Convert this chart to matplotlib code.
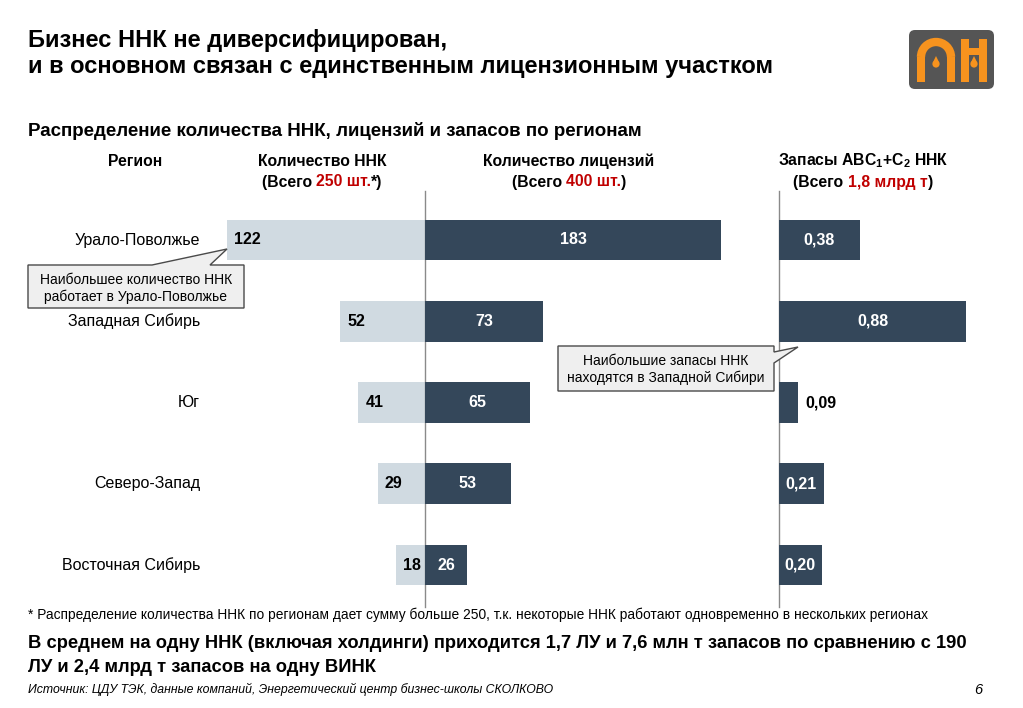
import matplotlib
matplotlib.use("Agg")
import matplotlib.pyplot as plt
from matplotlib.patches import Polygon, FancyBboxPatch, Rectangle, Arc, Circle

plt.rcParams['font.family'] = ['Liberation Sans', 'DejaVu Sans']
plt.rcParams['mathtext.default'] = 'regular'

W, H = 1023, 708

regions = ['Урало-Поволжье', 'Западная Сибирь', 'Юг', 'Северо-Запад', 'Восточная Сибирь']
nnk_count = [122, 52, 41, 29, 18]
licenses = [183, 73, 65, 53, 26]
reserves = [0.38, 0.88, 0.09, 0.21, 0.20]

light = '#D0DAE1'
dark = '#34475A'
red = '#C00000'
HDR = 11.3


def px_axes(left, top, right, bottom):
    return fig.add_axes([left / W, 1 - bottom / H, (right - left) / W, (bottom - top) / H])


def clean(ax):
    ax.set_axis_off()
    ax.set_ylim(4.49, -0.49)


fig = plt.figure(figsize=(W / 100, H / 100), dpi=100)
fig.patch.set_facecolor('white')

ax_n = px_axes(100, 200, 425, 605)
ax_l = px_axes(425, 200, 760, 605)
ax_r = px_axes(779, 200, 1000, 605)
for a in (ax_n, ax_l, ax_r):
    clean(a)
ax_n.set_xlim(200, 0)
ax_l.set_xlim(0, 335 / 1.618)
ax_r.set_xlim(0, 221 / 213.0)

rows = range(len(regions))
ax_n.barh(rows, nnk_count, height=0.5, color=light)
ax_l.barh(rows, licenses, height=0.5, color=dark)
ax_r.barh(rows, reserves, height=0.5, color=dark)

for a in (ax_l, ax_r):
    a.plot([0, 0], [-0.6, 4.52], color='#8A8A8A', lw=1, clip_on=False, zorder=0)

for i, v in enumerate(nnk_count):
    ax_n.annotate(str(v), xy=(v, i), xytext=(5, 0), textcoords='offset points',
                  ha='left', va='center', fontsize=11.5, fontweight='bold', color='black')
for i, v in enumerate(licenses):
    ax_l.text(v / 2, i, str(v), ha='center', va='center', fontsize=11.5,
              fontweight='bold', color='white')
for i, v in enumerate(reserves):
    s = ('%.2f' % v).replace('.', ',')
    if v < 0.15:
        ax_r.annotate(s, xy=(v, i), xytext=(5, 0), textcoords='offset points',
                      ha='left', va='center', fontsize=11.5, fontweight='bold', color='black')
    else:
        ax_r.text(v / 2, i, s, ha='center', va='center', fontsize=11.5,
                  fontweight='bold', color='white')

# overlay in pixel coordinates
ov = fig.add_axes([0, 0, 1, 1], zorder=5)
ov.set_xlim(0, W)
ov.set_ylim(H, 0)
ov.set_axis_off()
ov.patch.set_alpha(0)

for i, name in enumerate(regions):
    ov.text(200, 240 + 81.3 * i, name, ha='right', va='center', fontsize=11.5)

ov.text(28, 40, 'Бизнес ННК не диверсифицирован,', fontsize=17, fontweight='bold', va='center')
ov.text(28, 66, 'и в основном связан с единственным лицензионным участком', fontsize=17,
        fontweight='bold', va='center')
ov.text(28, 131, 'Распределение количества ННК, лицензий и запасов по регионам', fontsize=13.5,
        fontweight='bold', va='center')

ov.text(135, 161, 'Регион', ha='center', va='center', fontsize=HDR, fontweight='bold')
ov.text(322, 161, 'Количество ННК', ha='center', va='center', fontsize=HDR, fontweight='bold')
ov.text(569, 161, 'Количество лицензий', ha='center', va='center', fontsize=HDR, fontweight='bold')
ov.text(863, 161, 'Запасы ABC$_1$+C$_2$ ННК', ha='center', va='center', fontsize=HDR,
        fontweight='bold')

renderer = fig.canvas.get_renderer()


def multi_text(cx, y, parts):
    items = []
    for txt, col in parts:
        t = ov.text(0, y, txt, color=col, ha='left', va='center', fontsize=HDR, fontweight='bold')
        items.append(t)
    widths = [t.get_window_extent(renderer).width for t in items]
    x = cx - sum(widths) / 2
    for t, w in zip(items, widths):
        t.set_x(x)
        x += w


multi_text(322, 182, [('(Всего ', 'black'), ('250 шт.', red), ('*)', 'black')])
multi_text(569, 182, [('(Всего ', 'black'), ('400 шт.', red), (')', 'black')])
multi_text(863, 182, [('(Всего ', 'black'), ('1,8 млрд т', red), (')', 'black')])

# callouts
box1 = [(28, 265), (152, 265), (227, 249), (210, 265), (244, 265), (244, 308), (28, 308)]
box2 = [(558, 346), (774, 346), (774, 352), (798, 347), (774, 363), (774, 391), (558, 391)]
for pts in (box1, box2):
    ov.add_patch(Polygon(pts, closed=True, facecolor='#EFEFEF', edgecolor='#4A4A4A', lw=1))
ov.text(136, 280, 'Наибольшее количество ННК', ha='center', va='center', fontsize=10)
ov.text(136, 297, 'работает в Урало-Поволжье', ha='center', va='center', fontsize=10)
ov.text(666, 361, 'Наибольшие запасы ННК', ha='center', va='center', fontsize=10)
ov.text(666, 378, 'находятся в Западной Сибири', ha='center', va='center', fontsize=10)

# bottom texts
ov.text(28, 615, '* Распределение количества ННК по регионам дает сумму больше 250, т.к. '
        'некоторые ННК работают одновременно в нескольких регионах', fontsize=9.95, va='center')
ov.text(28, 643, 'В среднем на одну ННК (включая холдинги) приходится 1,7 ЛУ и 7,6 млн т '
        'запасов по сравнению с 190', fontsize=13.2, fontweight='bold', va='center')
ov.text(28, 667, 'ЛУ и 2,4 млрд т запасов на одну ВИНК', fontsize=13.2, fontweight='bold', va='center')
ov.text(28, 689, 'Источник: ЦДУ ТЭК, данные компаний, Энергетический центр бизнес-школы СКОЛКОВО',
        fontsize=8.85, style='italic', va='center')
ov.text(978, 690, '6', fontsize=10.5, style='italic', va='center', ha='center')

# logo
orange = '#F7931E'
ov.add_patch(FancyBboxPatch((909, 30), 85, 59, boxstyle='round,pad=0,rounding_size=6',
                            facecolor='#555555', edgecolor='none'))
ov.add_patch(Arc((936, 57), 30, 30, theta1=180, theta2=360, color=orange, lw=6))
ov.add_patch(Rectangle((917, 57), 8, 25, color=orange, lw=0))
ov.add_patch(Rectangle((947, 57), 8, 25, color=orange, lw=0))
ov.add_patch(Rectangle((961, 39), 8, 43, color=orange, lw=0))
ov.add_patch(Rectangle((979, 39), 8, 43, color=orange, lw=0))
ov.add_patch(Rectangle((961, 48), 26, 7, color=orange, lw=0))
for cx in (936, 974):
    ov.add_patch(Circle((cx, 64), 3.6, color=orange, lw=0))
    ov.add_patch(Polygon([(cx - 3.4, 63), (cx, 56), (cx + 3.4, 63)], color=orange, lw=0))

fig.savefig('out.png', dpi=100, facecolor='white')
